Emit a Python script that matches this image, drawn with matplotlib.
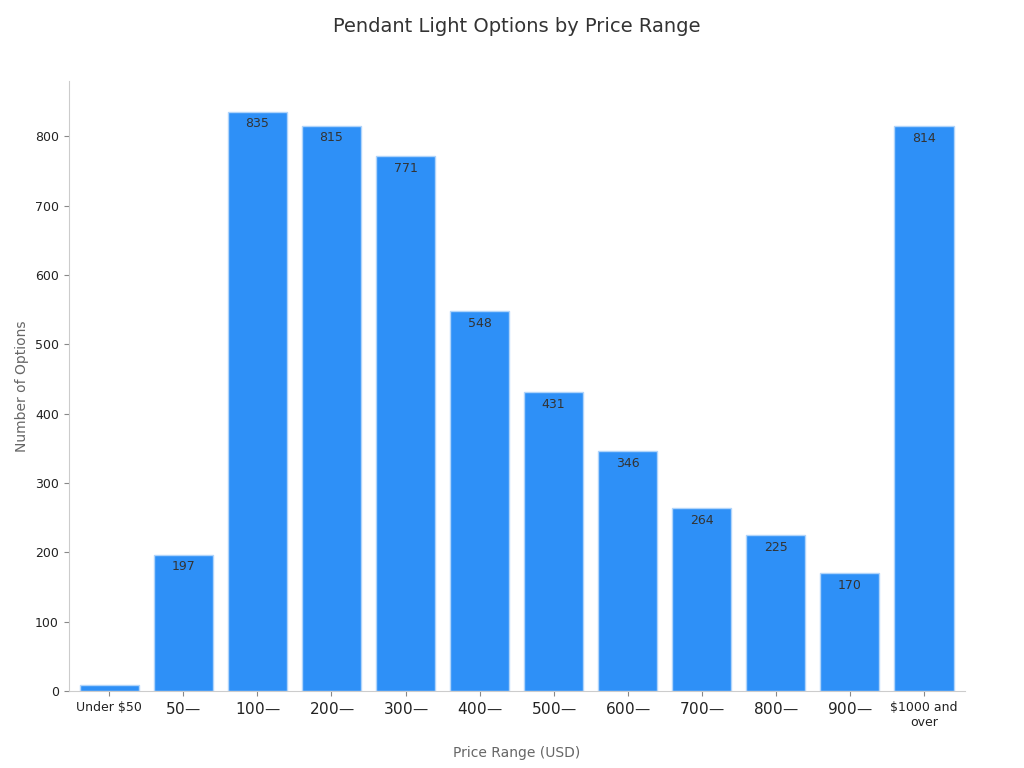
import matplotlib.pyplot as plt

categories = ["Under \\$50", "$50—$", "$100—$", "$200—$", "$300—$", "$400—$", "$500—$",
              "$600—$", "$700—$", "$800—$", "$900—$", "\\$1000 and\nover"]
values = [9, 197, 835, 815, 771, 548, 431, 346, 264, 225, 170, 814]
labels = ["", "197", "835", "815", "771", "548", "431", "346", "264", "225", "170", "814"]

fig, ax = plt.subplots(figsize=(10.24, 7.68), dpi=100)
fig.subplots_adjust(left=0.067, right=0.942, top=0.895, bottom=0.1)
x = range(len(values))
bars = ax.bar(x, values, width=0.8, color="#2e90f7", edgecolor="#b0d4fa", linewidth=1)
for b, l in zip(bars, labels):
    if l:
        ax.text(b.get_x() + b.get_width() / 2, b.get_height() - 8, l, ha="center", va="top",
                fontsize=9, color="#333333")
ax.set_xticks(list(x))
ax.set_xticklabels(categories, fontsize=9, color="#222222")
for t in ax.get_xticklabels()[1:-1]:
    t.set_fontsize(11)
ax.set_xlim(-0.55, 11.55)
ax.set_ylim(0, 880)
ax.set_yticks(range(0, 900, 100))
ax.tick_params(axis="y", labelsize=9, colors="#222222")
ax.tick_params(axis="both", color="#888888")
ax.set_ylabel("Number of Options", fontsize=10, color="#666666")
ax.set_xlabel("Price Range (USD)", fontsize=10, color="#666666", labelpad=12)
ax.set_title("Pendant Light Options by Price Range", fontsize=14, color="#333333", pad=35)
for s in ["top", "right"]:
    ax.spines[s].set_visible(False)
for s in ["left", "bottom"]:
    ax.spines[s].set_color("#cccccc")
fig.savefig("out.png")
